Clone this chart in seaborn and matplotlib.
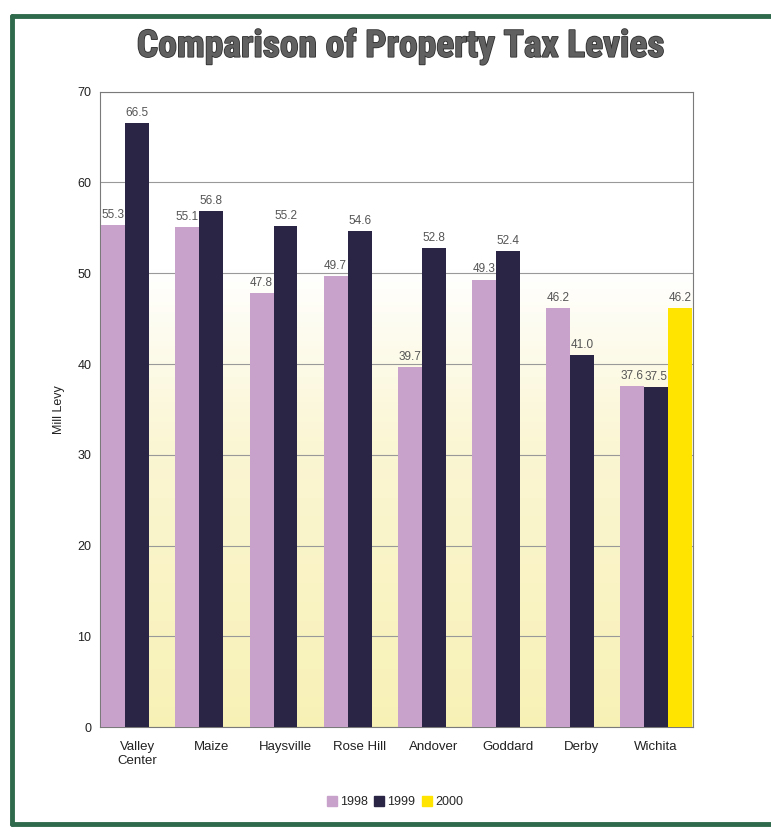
import pandas as pd
import numpy as np
import matplotlib.pyplot as plt
import matplotlib.patheffects as pe
from matplotlib.colors import LinearSegmentedColormap
from matplotlib.lines import Line2D
import seaborn as sns

# Data
cities = ['Valley\nCenter', 'Maize', 'Haysville', 'Rose Hill', 'Andover', 'Goddard', 'Derby', 'Wichita']
levy_1998 = [55.3, 55.1, 47.8, 49.7, 39.7, 49.3, 46.2, 37.6]
levy_1999 = [66.5, 56.8, 55.2, 54.6, 52.8, 52.4, 41.0, 37.5]
levy_2000 = [np.nan, np.nan, np.nan, np.nan, np.nan, np.nan, np.nan, 46.2]
years = ['1998', '1999', '2000']
colors = ['#c9a2cb', '#2b2545', '#ffe400']

df = pd.DataFrame({
    'City': cities * 3,
    'Year': ['1998'] * 8 + ['1999'] * 8 + ['2000'] * 8,
    'Levy': levy_1998 + levy_1999 + levy_2000,
})

sns.set_style('white')
plt.rcParams['font.family'] = ['Liberation Sans', 'DejaVu Sans']

fig = plt.figure(figsize=(7.71, 8.33), dpi=100)
ax = fig.add_axes([0.130, 0.127, 0.769, 0.763])

# pale yellow gradient in the plot area
grad = np.linspace(0, 1, 256).reshape(-1, 1)
cmap = LinearSegmentedColormap.from_list('bg', [(0, '#f8f1b6'), (0.45, '#fbf6d4'), (0.72, '#ffffff'), (1, '#ffffff')])
ax.imshow(grad, cmap=cmap, extent=[0, 1, 0, 1], transform=ax.transAxes,
          aspect='auto', origin='lower', zorder=0)

sns.barplot(data=df, x='City', y='Levy', hue='Year', hue_order=years,
            palette=colors, saturation=1, width=0.97, gap=0, dodge=True, ax=ax, zorder=3,
            err_kws={'linewidth': 0}, linewidth=0)

for cont in ax.containers:
    ax.bar_label(cont, fmt='%.1f', padding=3, fontsize=8.5, color='#555555')

ax.set_ylim(0, 70)
ax.set_yticks(range(0, 71, 10))
ax.grid(axis='y', color='#999999', linewidth=0.8, zorder=1)
ax.set_axisbelow(True)
for s in ax.spines.values():
    s.set_color('#7a7a7a')
    s.set_linewidth(0.8)
ax.tick_params(axis='both', labelsize=9, colors='#222222', length=3, width=0.6)
ax.tick_params(axis='x', length=0, pad=10, labelsize=9.5)
ax.set_xlabel('')
ax.set_ylabel('Mill Levy', fontsize=9, color='#222222', labelpad=9)

ax.legend_.remove()
handles = [plt.Rectangle((0, 0), 1, 1, color=c) for c in colors]
fig.legend(handles, years, loc='center', bbox_to_anchor=(395 / 771, 1 - 802 / 833),
           ncol=3, frameon=False, fontsize=9, handlelength=0.8, handleheight=0.8,
           handletextpad=0.25, columnspacing=0.5)

fig.text(0.52, 1 - 46 / 833, 'Comparison of Property Tax Levies', ha='center', va='center',
         fontsize=27, fontweight='bold', fontstretch='condensed', color='#606060',
         family=['Liberation Sans Narrow', 'DejaVu Sans Condensed', 'Roboto Condensed', 'Roboto'],
         path_effects=[pe.withStroke(linewidth=1.2, foreground='#303030')])

# green frame around the page
frame_col = '#2f6a4c'
fig.add_artist(Line2D([12 / 771, 1], [1 - 16 / 833, 1 - 16 / 833], color=frame_col, lw=3.5))
fig.add_artist(Line2D([12 / 771, 12 / 771], [1 - 16 / 833, 1 - 824 / 833], color=frame_col, lw=3.5))
fig.add_artist(Line2D([12 / 771, 1], [1 - 824 / 833, 1 - 824 / 833], color=frame_col, lw=3.5))

plt.savefig('out.png', dpi=100)
